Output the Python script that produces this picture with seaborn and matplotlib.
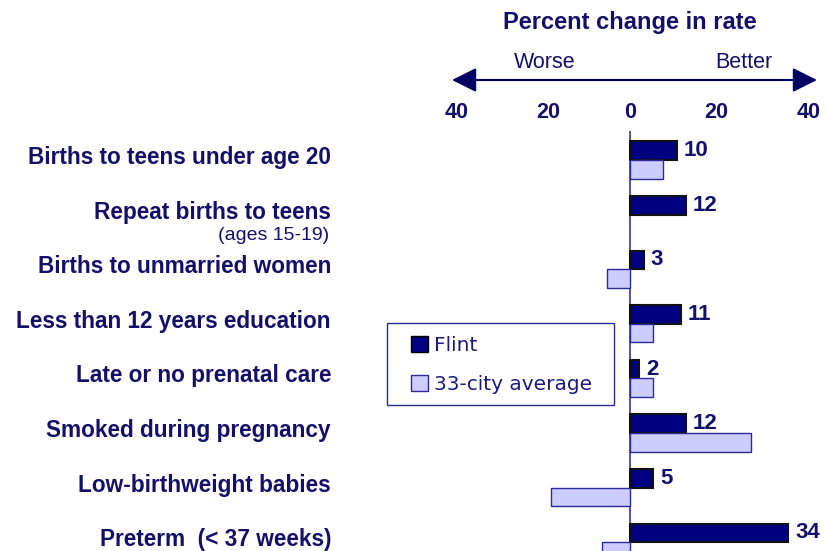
import numpy as np
import pandas as pd
import matplotlib
matplotlib.use("Agg")
import matplotlib.pyplot as plt
import seaborn as sns
from matplotlib.patches import FancyArrowPatch, Rectangle

categories = [
    "Births to teens under age 20",
    "Repeat births to teens",
    "Births to unmarried women",
    "Less than 12 years education",
    "Late or no prenatal care",
    "Smoked during pregnancy",
    "Low-birthweight babies",
    "Preterm  (< 37 weeks)",
]
flint = [10, 12, 3, 11, 2, 12, 5, 34]
city_avg = [7, np.nan, -5, 5, 5, 26, -17, -6]
series_names = ["Flint", "33-city average"]
tick_labels = ["40", "20", "0", "20", "40"]

NAVY_TXT = "#14106a"
FLINT_C = "#000080"
AVG_C = "#ccccff"

df = pd.DataFrame({
    "category": categories * 2,
    "value": flint + city_avg,
    "series": [series_names[0]] * len(categories) + [series_names[1]] * len(categories),
})

sns.set_theme(style="white")
plt.rcParams["font.family"] = ["Liberation Sans", "DejaVu Sans"]

W, H = 827, 551
fig = plt.figure(figsize=(W / 100, H / 100), dpi=100)
ax_left, ax_right = 444, 816
ax_top, ax_bot = 131, 551
ax = fig.add_axes([ax_left / W, 1 - ax_bot / H, (ax_right - ax_left) / W, (ax_bot - ax_top) / H])

sns.barplot(data=df, y="category", x="value", hue="series", orient="h",
            palette=[FLINT_C, AVG_C], width=0.68, dodge=True, ax=ax,
            errorbar=None, legend=True, saturation=1)

for i, cont in enumerate(ax.containers):
    for p in cont:
        if i == 0:
            p.set_edgecolor("#111111")
            p.set_linewidth(1.5)
        else:
            p.set_edgecolor("#2a2a99")
            p.set_linewidth(1.0)

ax.bar_label(ax.containers[0], labels=[str(v) for v in flint], padding=5,
             fontsize=16, fontweight="bold", color=NAVY_TXT)

ax.set_xlim(-40, 40)
px_per_row = 54.6
row0 = 160
ax.set_ylim((ax_bot - row0) / px_per_row, (ax_top - row0) / px_per_row)
ax.axvline(0, color="#3333aa", lw=1.2, zorder=0)

for s in ax.spines.values():
    s.set_visible(False)
ax.set_xlabel("")
ax.set_ylabel("")
ax.set_yticks([])

ax.xaxis.tick_top()
ax.set_xticks([-37.2, -17.6, 0, 18.5, 38.5])
ax.set_xticklabels(tick_labels, fontsize=15.5, fontweight="bold", color=NAVY_TXT)
ax.tick_params(axis="x", length=0, pad=6)

for i, c in enumerate(categories):
    y = 1 - (row0 - 2.5 + i * px_per_row) / H
    fig.text(331 / W, y, c, ha="right", va="center", fontsize=16.3,
             fontweight="bold", color=NAVY_TXT)
fig.text(329 / W, 1 - 235 / H, "(ages 15-19)", ha="right", va="center",
         fontsize=14, color=NAVY_TXT)

fig.text(630 / W, 1 - 22 / H, "Percent change in rate", ha="center", va="center",
         fontsize=17, fontweight="bold", color=NAVY_TXT)
fig.text(545 / W, 1 - 62 / H, "Worse", ha="center", va="center", fontsize=15.5, color=NAVY_TXT)
fig.text(744 / W, 1 - 62 / H, "Better", ha="center", va="center", fontsize=15.5, color=NAVY_TXT)
arrow = FancyArrowPatch((452 / W, 1 - 80 / H), (817 / W, 1 - 80 / H),
                        transform=fig.transFigure, arrowstyle="<|-|>,head_length=1.5,head_width=0.75",
                        mutation_scale=10, color="#000066", lw=1.5, shrinkA=0, shrinkB=0)
fig.patches.append(arrow)

frame = Rectangle((387 / W, 1 - 405 / H), 227 / W, 82 / H, transform=fig.transFigure,
                  facecolor="white", edgecolor="#2a2a99", lw=1.0, zorder=3)
fig.patches.append(frame)

handles, labels = ax.get_legend_handles_labels()
ax.get_legend().remove()
handles[0].set_edgecolor("#000000")
handles[1].set_edgecolor("#2a2a99")
leg = fig.legend(handles, labels, loc="upper left",
                 bbox_to_anchor=(411 / W, 1 - 336 / H),
                 frameon=False, handlelength=0.85, handleheight=0.85,
                 handletextpad=0.3, labelspacing=1.0, borderpad=0, borderaxespad=0,
                 prop={"family": "DejaVu Sans", "size": 14.5})
leg.set_zorder(5)
for t in leg.get_texts():
    t.set_color("#1a1a80")

fig.savefig("out.png", dpi=100, facecolor="white")
